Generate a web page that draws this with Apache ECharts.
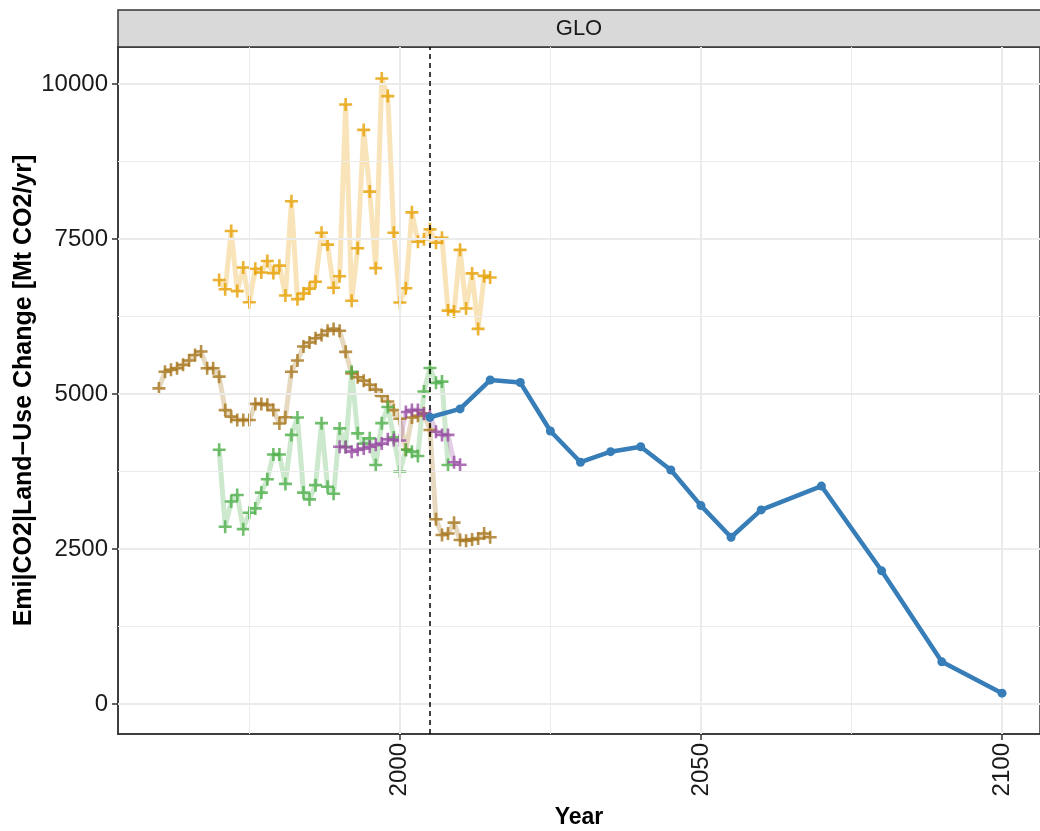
<!DOCTYPE html>
<html>
<head>
<meta charset="utf-8">
<title>GLO Emi|CO2|Land-Use Change</title>
<script src="https://cdn.jsdelivr.net/npm/echarts@6/dist/echarts.min.js"></script>
<style>
  html, body { margin: 0; padding: 0; background: #fff; }
  #chart { width: 1040px; height: 831px; }
</style>
</head>
<body>
<div id="chart"></div>
<script>
// historical sources (yearly) and the projection (blue)
var orangeYears = [], brownYears = [], greenYears = [], purpleYears = [];
var y;
for (y = 1970; y <= 2015; y++) orangeYears.push(y);
for (y = 1960; y <= 2015; y++) brownYears.push(y);
for (y = 1970; y <= 2008; y++) greenYears.push(y);
for (y = 1990; y <= 2010; y++) purpleYears.push(y);

var orangeValues = [6840, 6690, 7630, 6660, 7040, 6480, 7020, 6960, 7145, 6950,
  7070, 6590, 8110, 6530, 6620, 6700, 6810, 7600, 7410, 6715,
  6900, 9670, 6505, 7350, 9260, 8265, 7030, 10090, 9805, 7600,
  6475, 6705, 7930, 7455, 7495, 7655, 7440, 7520, 6345, 6330,
  7325, 6380, 6945, 6050, 6905, 6880];
var brownValues = [5090, 5360, 5390, 5415, 5470, 5540, 5630, 5685, 5415, 5415,
  5280, 4740, 4635, 4580, 4580, 4580, 4840, 4840, 4825, 4740,
  4525, 4625, 5360, 5540, 5765, 5830, 5900, 5950, 6020, 6050,
  6020, 5680, 5333, 5270, 5215, 5150, 5070, 4970, 4880, 4740,
  4600, 4100, 4620, 4650, 4690, 4420, 2980, 2725, 2750, 2925,
  2645, 2635, 2655, 2670, 2750, 2690];
var greenValues = [4100, 2860, 3265, 3370, 2820, 3085, 3155, 3410, 3625, 4025,
  4025, 3550, 4340, 4620, 3410, 3300, 3530, 4530, 3505, 3390,
  4445, 4150, 5360, 4365, 4200, 4285, 3855, 4530, 4790, 4300,
  3750, 4100, 4070, 4000, 5040, 5420, 5180, 5200, 3855];
var purpleValues = [4150, 4140, 4070, 4100, 4120, 4150, 4180, 4200, 4270, 4260,
  4250, 4710, 4740, 4740, 4680, 4650, 4390, 4340, 4340, 3900, 3860];

var blueYears = [2005, 2010, 2015, 2020, 2025, 2030, 2035, 2040, 2045, 2050, 2055, 2060, 2070, 2080, 2090, 2100];
var blueValues = [4625, 4760, 5225, 5185, 4403, 3900, 4070, 4150, 3775, 3200, 2690, 3130, 3515, 2148, 680, 175];

var xTicks = [2000, 2050, 2100];
var xMinor = [1975, 2025, 2075];
var yTicks = [0, 2500, 5000, 7500, 10000];
var yMinor = [1250, 3750, 6250, 8750];
var refYear = 2005;

function pairs(xs, vs) {
  return xs.map(function(x, i) { return [x, vs[i]]; });
}

var font = "'Liberation Sans', Arial, sans-serif";
var plus = 'path://M4.8,0H7.2V4.8H12V7.2H7.2V12H4.8V7.2H0V4.8H4.8Z';

var hist = [
  { name: 'orange', color: '#E69F00', xs: orangeYears, vs: orangeValues },
  { name: 'brown', color: '#A6761D', xs: brownYears, vs: brownValues },
  { name: 'green', color: '#4DAF4A', xs: greenYears, vs: greenValues },
  { name: 'purple', color: '#984EA3', xs: purpleYears, vs: purpleValues }
];

var gridMarks = [];
xTicks.forEach(function(v) { gridMarks.push({ xAxis: v, lineStyle: { width: 2 } }); });
xMinor.forEach(function(v) { gridMarks.push({ xAxis: v, lineStyle: { width: 1 } }); });
yTicks.forEach(function(v) { gridMarks.push({ yAxis: v, lineStyle: { width: 2 } }); });
yMinor.forEach(function(v) { gridMarks.push({ yAxis: v, lineStyle: { width: 1 } }); });

var series = [{
  type: 'line',
  data: [],
  z: 0,
  silent: true,
  markLine: {
    silent: true,
    symbol: ['none', 'none'],
    label: { show: false },
    lineStyle: { color: '#EBEBEB', type: 'solid' },
    data: gridMarks
  }
}];

hist.forEach(function(h) {
  series.push({
    type: 'line',
    name: h.name,
    data: pairs(h.xs, h.vs),
    showSymbol: false,
    z: 2,
    lineStyle: { color: h.color, width: 5, opacity: 0.28 }
  });
});
hist.forEach(function(h) {
  series.push({
    type: 'scatter',
    name: h.name,
    data: pairs(h.xs, h.vs),
    symbol: plus,
    symbolSize: 13,
    z: 3,
    itemStyle: { color: h.color }
  });
});
series.push({
  type: 'line',
  data: [],
  z: 4,
  silent: true,
  markLine: {
    silent: true,
    symbol: ['none', 'none'],
    label: { show: false },
    lineStyle: { color: '#000', type: [5, 4], width: 1.5 },
    data: [{ xAxis: refYear }]
  }
});
series.push({
  type: 'line',
  name: 'projection',
  data: pairs(blueYears, blueValues),
  z: 5,
  symbol: 'circle',
  symbolSize: 9,
  lineStyle: { color: '#377EB8', width: 4.5 },
  itemStyle: { color: '#377EB8' }
});

var chart = echarts.init(document.getElementById('chart'), null, { renderer: 'canvas' });
chart.setOption({
  animation: false,
  backgroundColor: '#fff',
  grid: {
    left: 118, right: 0, top: 47, bottom: 97,
    containLabel: false, outerBoundsMode: 'none',
    show: true, borderColor: '#333', borderWidth: 1.5, backgroundColor: 'transparent'
  },
  graphic: [{
    type: 'rect',
    shape: { x: 118, y: 10, width: 925, height: 37 },
    style: { fill: '#D9D9D9', stroke: '#333', lineWidth: 1.5 }
  }, {
    type: 'text',
    x: 579, y: 29,
    style: { text: 'GLO', fill: '#1a1a1a', font: '22px ' + font, align: 'center', verticalAlign: 'middle' }
  }],
  xAxis: {
    type: 'value',
    min: 1953.2,
    max: 2106.3,
    name: 'Year',
    nameLocation: 'middle',
    nameGap: 72,
    nameTextStyle: { fontFamily: font, fontSize: 23, fontWeight: 'bold', color: '#000' },
    axisLine: { show: true, onZero: false, lineStyle: { color: '#333', width: 1.5 } },
    axisTick: { show: true, customValues: xTicks, length: 6, lineStyle: { color: '#333', width: 1.5 } },
    axisLabel: {
      customValues: xTicks, rotate: 90, margin: 9,
      fontFamily: font, fontSize: 24, color: '#1a1a1a',
      formatter: function(v) { return String(v); }
    },
    splitLine: { show: false }
  },
  yAxis: {
    type: 'value',
    min: -484,
    max: 10597,
    name: 'Emi|CO2|Land\u2212Use Change [Mt CO2/yr]',
    nameLocation: 'middle',
    nameRotate: 90,
    nameGap: 81,
    nameMoveOverlap: false,
    nameTextStyle: { fontFamily: font, fontSize: 25, fontWeight: 'bold', color: '#000' },
    axisLine: { show: true, onZero: false, lineStyle: { color: '#333', width: 1.5 } },
    axisTick: { show: true, customValues: yTicks, length: 6, lineStyle: { color: '#333', width: 1.5 } },
    axisLabel: {
      customValues: yTicks, margin: 10,
      fontFamily: font, fontSize: 24, color: '#1a1a1a',
      formatter: function(v) { return String(v); }
    },
    splitLine: { show: false }
  },
  series: series
});
</script>
</body>
</html>
